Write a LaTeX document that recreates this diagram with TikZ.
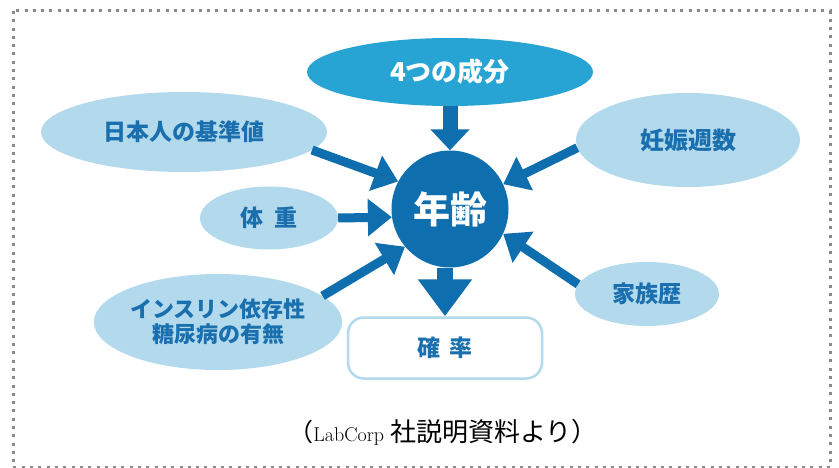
\documentclass[tikz,border=0pt]{standalone}
\usepackage{fontspec}
\usetikzlibrary{shapes.geometric,arrows.meta}
\newfontfamily\jpf{Noto Sans CJK JP}
\definecolor{dkblue}{HTML}{0F6EAE}
\definecolor{mdblue}{HTML}{27A4D3}
\definecolor{ltblue}{HTML}{B3DAEC}
\definecolor{txblue}{HTML}{1A6FAF}
\definecolor{brdgray}{HTML}{8A8A8A}
\tikzset{
  lightell/.style={ellipse, fill=ltblue, draw=none, text=txblue, font=\jpf\bfseries\fontsize{23}{25}\selectfont, align=center, inner sep=0pt},
  sidearrow/.style={draw=dkblue, line width=9pt, -{Triangle[length=24pt,width=36pt]}},
  bigarrow/.style={draw=dkblue, line width=16pt, -{Triangle[length=37pt,width=52pt]}},
  toparrow/.style={draw=dkblue, line width=15pt, -{Triangle[length=21pt,width=38pt]}},
}
\begin{document}
\begin{tikzpicture}[x=1pt,y=-1pt]
\useasboundingbox (0,0) rectangle (839,468);
\fill[white] (0,0) rectangle (839,468);
\draw[brdgray, line width=3pt, dash pattern=on 3pt off 5.3pt] (13,11) rectangle (830,467);

% nodes
\node[ellipse, fill=mdblue, minimum width=286pt, minimum height=68pt, inner sep=0pt, text=white, font=\jpf\bfseries\fontsize{26}{28}\selectfont] (comp) at (450,72) {4つの成分};
\node[circle, fill=dkblue, minimum size=117pt, inner sep=0pt, text=white, font=\jpf\bfseries\fontsize{37}{40}\selectfont] (age) at (450,209) {年齢};
\node[lightell, minimum width=286pt, minimum height=80pt] (jp) at (184,132) {日本人の基準値};
\node[lightell, minimum width=224pt, minimum height=94pt, font=\jpf\bfseries\fontsize{24}{26}\selectfont] (preg) at (688,140) {妊娠週数};
\node[lightell, minimum width=138pt, minimum height=63pt] (wt) at (269,218) {体\hspace{11pt}重};
\node[lightell, minimum width=226pt, minimum height=96pt, font=\jpf\bfseries\fontsize{22}{25}\selectfont] (ins) at (218,322) {インスリン依存性\\糖尿病の有無};
\node[lightell, minimum width=144pt, minimum height=64pt] (fam) at (647,294) {家族歴};
\node[draw=ltblue, line width=2.5pt, rounded corners=16pt, fill=white, minimum width=194pt, minimum height=61pt, text=txblue, font=\jpf\bfseries\fontsize{23}{25}\selectfont] (prob) at (445,348) {確\hspace{10pt}率};

\node[text=black, inner sep=0pt] (cap) at (443,432) {\jpf\fontsize{25}{26}\selectfont （\rmfamily\fontsize{20}{24}\selectfont LabCorp \jpf\fontsize{26}{26}\selectfont 社説明資料より）};

% connectors
\draw[toparrow] (comp.south) -- (age.north);
\draw[bigarrow] (age.south -| prob.north) -- (prob.north);
\draw[sidearrow] (jp.-8) -- (age.152);
\draw[sidearrow] (wt.0) -- (age.188);
\draw[sidearrow] (ins.14) -- (age.220);
\draw[sidearrow] (preg.184) -- (age.25);
\draw[sidearrow] (fam.172) -- (age.-25);
\end{tikzpicture}
\end{document}
